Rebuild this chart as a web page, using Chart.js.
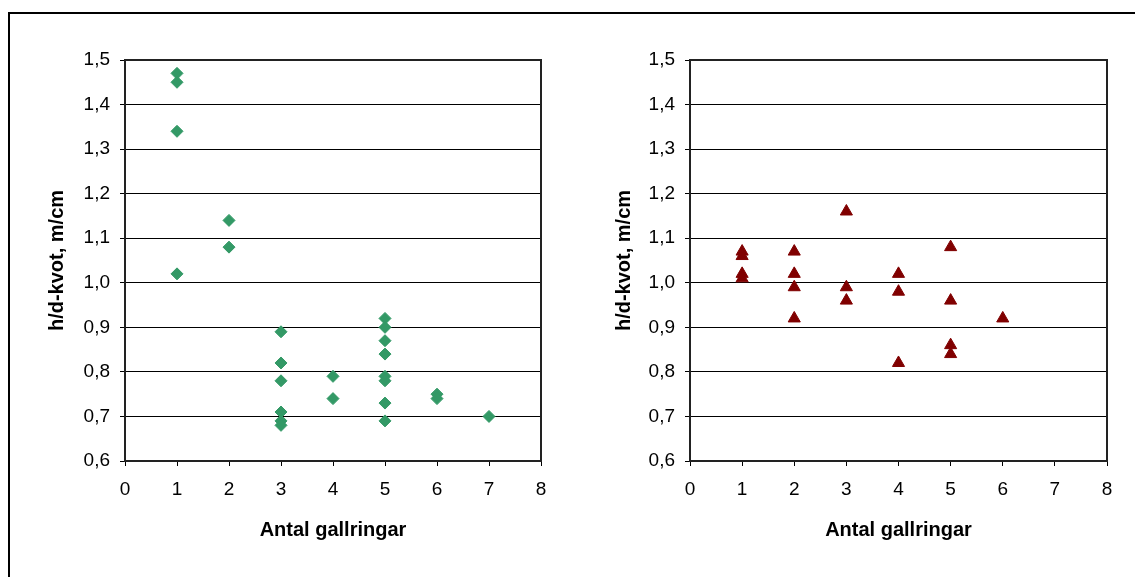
<!DOCTYPE html>
<html lang="sv">
<head>
<meta charset="utf-8">
<script src="https://cdn.jsdelivr.net/npm/chart.js@4.4.1/dist/chart.umd.min.js"></script>
<style>
    html, body { margin: 0; padding: 0; background: #fff; width: 1135px; height: 577px; overflow: hidden; }
    .ram { position: absolute; left: 8px; top: 12px; width: 1140px; height: 580px; border-left: 2px solid #000; border-top: 2px solid #000; }
    canvas { position: absolute; }
    #diagram-vanster { left: 10px; top: 14px; }
    #diagram-hoger { left: 575px; top: 14px; }
</style>
</head>
<body>
<div class="ram"></div>
<canvas id="diagram-vanster" width="560" height="560"></canvas>
<canvas id="diagram-hoger" width="560" height="560"></canvas>
<script>
// Antal gallringar (x) och h/d-kvot (y) för de två bestånden
const vansterX = [1, 1, 1, 1, 2, 2, 3, 3, 3, 3, 3, 3, 4, 4, 5, 5, 5, 5, 5, 5, 5, 5, 6, 6, 7];
const vansterY = [1.47, 1.45, 1.34, 1.02, 1.14, 1.08, 0.89, 0.82, 0.78, 0.71, 0.69, 0.68, 0.79, 0.74,
                  0.92, 0.90, 0.87, 0.84, 0.79, 0.78, 0.73, 0.69, 0.75, 0.74, 0.70];

const hogerX = [1, 1, 1, 1, 2, 2, 2, 2, 3, 3, 3, 4, 4, 4, 5, 5, 5, 5, 6];
const hogerY = [1.07, 1.06, 1.02, 1.01, 1.07, 1.02, 0.99, 0.92, 1.16, 0.99, 0.96, 1.02, 0.98, 0.82,
                1.08, 0.96, 0.86, 0.84, 0.92];

// Axlarnas gränser och titlar
const xMin = 0, xMax = 8;
const yMin = 0.6, yMax = 1.5;
const xTitel = 'Antal gallringar';
const yTitel = 'h/d-kvot, m/cm';

const TYPSNITT = "'Liberation Sans', Arial, sans-serif";

// Ram runt ritytan (som i Excel)
const ramPlugin = {
    id: 'ritytaRam',
    beforeDatasetsDraw(chart) {
        const { ctx, chartArea: a } = chart;
        ctx.save();
        ctx.strokeStyle = '#222';
        ctx.lineWidth = 2;
        ctx.strokeRect(a.left, a.top, a.right - a.left, a.bottom - a.top);
        ctx.restore();
    }
};

function skapaDiagram(canvasId, xs, ys, stil) {
    const punkter = xs.map((x, i) => ({ x: x, y: ys[i] }));
    new Chart(document.getElementById(canvasId), {
        type: 'scatter',
        data: {
            datasets: [{
                data: punkter,
                pointStyle: stil.form,
                pointRadius: stil.radie,
                pointBackgroundColor: stil.farg,
                pointBorderColor: stil.farg,
                pointBorderWidth: 1
            }]
        },
        options: {
            responsive: false,
            animation: false,
            layout: { padding: { left: 0, top: 46, right: stil.hoger, bottom: 0 } },
            plugins: { legend: { display: false }, tooltip: { enabled: false } },
            scales: {
                x: {
                    type: 'linear',
                    min: xMin, max: xMax,
                    afterFit: (s) => { s.height = 113; },
                    ticks: { stepSize: 1, color: '#000', padding: 12, font: { family: TYPSNITT, size: 19 } },
                    grid: { drawOnChartArea: false, drawTicks: true, tickLength: 5, color: '#000' },
                    border: { color: '#000', width: 2 },
                    // titeln under x-axeln placeras med padding.bottom
                    title: { display: true, text: xTitel, color: '#000', padding: { top: 4, bottom: 32 },
                             font: { family: TYPSNITT, size: 20, weight: 'bold' } }
                },
                y: {
                    type: 'linear',
                    min: yMin, max: yMax,
                    afterFit: (s) => { s.width = 115; },
                    ticks: {
                        stepSize: 0.1, color: '#000', padding: 10,
                        font: { family: TYPSNITT, size: 19 },
                        callback: (v) => v.toFixed(1).replace('.', ',')
                    },
                    grid: { color: '#000', lineWidth: 1, tickLength: 5 },
                    border: { color: '#000', width: 2 },
                    title: { display: true, text: yTitel, color: '#000', padding: { top: stil.titelPad },
                             font: { family: TYPSNITT, size: 20, weight: 'bold' } }
                }
            }
        },
        plugins: [ramPlugin]
    });
}

// --- Vänster diagram: gröna romber ---
skapaDiagram('diagram-vanster', vansterX, vansterY,
    { form: 'rectRot', radie: 6, farg: '#339966', hoger: 29, titelPad: 35 });

// --- Höger diagram: mörkröda trianglar ---
skapaDiagram('diagram-hoger', hogerX, hogerY,
    { form: 'triangle', radie: 7, farg: '#800000', hoger: 28, titelPad: 37 });
</script>
</body>
</html>
